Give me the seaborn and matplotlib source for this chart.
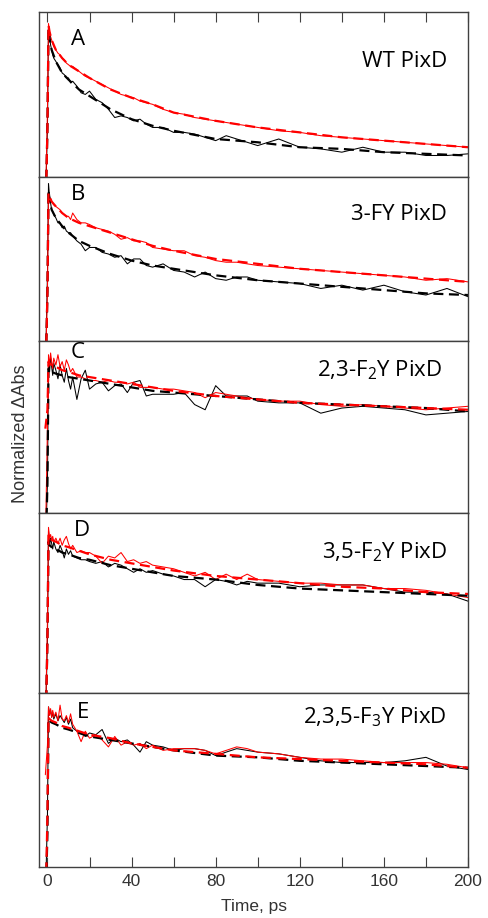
import numpy as np
import pandas as pd
import matplotlib
matplotlib.use("Agg")
import matplotlib.pyplot as plt
from matplotlib.ticker import MultipleLocator
import seaborn as sns

# time grids (ps)
DATA_T = [-1, 0, 0.5, 1, 1.5, 2, 2.5, 3, 4, 5, 6, 7, 8, 9, 10, 11, 12, 14, 16, 18, 20,
          23, 26, 29, 32, 35, 38, 41, 44, 47, 50, 55, 60, 65, 70, 75, 80, 85, 90, 95,
          100, 110, 120, 130, 140, 150, 160, 170, 180, 190, 200]
FIT_T = [-1, 0, 0.5, 1, 2, 4, 7, 10, 15, 20, 30, 40, 50, 60, 80, 100, 120, 140, 160, 180, 200]

# panel A - WT PixD
A_BLACK = [-0.2, 0.3, 0.91, 0.85, 0.80, 0.77, 0.74, 0.72, 0.70, 0.68, 0.66, 0.63, 0.62, 0.60, 0.60,
           0.57, 0.58, 0.55, 0.51, 0.50, 0.52, 0.47, 0.45, 0.41, 0.36, 0.37, 0.36, 0.34, 0.35, 0.32,
           0.30, 0.30, 0.27, 0.27, 0.26, 0.24, 0.22, 0.25, 0.23, 0.21, 0.19, 0.23, 0.18, 0.17, 0.15,
           0.18, 0.15, 0.15, 0.13, 0.13, 0.14]
A_RED = [-0.2, 0.4, 0.93, 0.88, 0.85, 0.83, 0.81, 0.79, 0.77, 0.75, 0.74, 0.72, 0.71, 0.69, 0.68,
         0.67, 0.67, 0.65, 0.63, 0.61, 0.60, 0.58, 0.56, 0.54, 0.52, 0.50, 0.49, 0.48, 0.46, 0.45,
         0.44, 0.41, 0.39, 0.38, 0.36, 0.35, 0.34, 0.33, 0.32, 0.31, 0.30, 0.28, 0.27, 0.25, 0.24,
         0.23, 0.22, 0.21, 0.20, 0.19, 0.18]
A_BLACK_FIT = [-0.3, 0.3, 0.90, 0.84, 0.77, 0.70, 0.63, 0.59, 0.53, 0.49, 0.41, 0.35, 0.31, 0.28,
               0.23, 0.21, 0.18, 0.17, 0.15, 0.14, 0.13]
A_RED_FIT = [-0.3, 0.3, 0.92, 0.88, 0.83, 0.77, 0.72, 0.68, 0.64, 0.60, 0.53, 0.48, 0.44, 0.39,
             0.34, 0.30, 0.27, 0.24, 0.22, 0.20, 0.18]

# panel B - 3-FY PixD
B_BLACK = [-0.2, 0.4, 0.96, 0.88, 0.84, 0.80, 0.79, 0.77, 0.75, 0.72, 0.72, 0.69, 0.70, 0.67, 0.66,
           0.66, 0.64, 0.61, 0.59, 0.55, 0.57, 0.57, 0.54, 0.53, 0.51, 0.52, 0.47, 0.50, 0.50, 0.46,
           0.45, 0.47, 0.43, 0.42, 0.39, 0.42, 0.38, 0.37, 0.39, 0.39, 0.37, 0.36, 0.35, 0.32, 0.34,
           0.31, 0.34, 0.30, 0.28, 0.32, 0.27]
B_RED = [-0.2, 0.3, 0.90, 0.88, 0.86, 0.85, 0.84, 0.83, 0.82, 0.81, 0.80, 0.78, 0.77, 0.76, 0.76,
         0.74, 0.78, 0.74, 0.72, 0.72, 0.71, 0.69, 0.68, 0.67, 0.65, 0.62, 0.63, 0.61, 0.61, 0.60,
         0.57, 0.56, 0.55, 0.55, 0.52, 0.51, 0.49, 0.48, 0.48, 0.47, 0.46, 0.45, 0.44, 0.43, 0.42,
         0.41, 0.40, 0.39, 0.37, 0.38, 0.36]
B_BLACK_FIT = [-0.3, 0.3, 0.92, 0.86, 0.80, 0.75, 0.70, 0.66, 0.61, 0.58, 0.53, 0.49, 0.46, 0.44,
               0.40, 0.37, 0.35, 0.33, 0.31, 0.29, 0.28]
B_RED_FIT = [-0.3, 0.3, 0.90, 0.88, 0.85, 0.82, 0.78, 0.75, 0.72, 0.70, 0.66, 0.62, 0.58, 0.55,
             0.50, 0.47, 0.44, 0.42, 0.40, 0.38, 0.36]

# panel C - 2,3-F2Y PixD
C_BLACK = [-0.2, 0.17, 0.88, 0.82, 0.90, 0.85, 0.80, 0.87, 0.83, 0.78, 0.86, 0.80, 0.76, 0.84, 0.77,
           0.72, 0.79, 0.66, 0.78, 0.83, 0.72, 0.75, 0.76, 0.71, 0.74, 0.75, 0.70, 0.76, 0.77, 0.68,
           0.69, 0.69, 0.69, 0.70, 0.63, 0.60, 0.74, 0.68, 0.68, 0.68, 0.65, 0.64, 0.64, 0.58, 0.61,
           0.62, 0.61, 0.60, 0.57, 0.58, 0.59]
C_RED = [-0.2, 0.5, 0.92, 0.86, 0.93, 0.88, 0.84, 0.90, 0.86, 0.92, 0.85, 0.88, 0.83, 0.89, 0.86,
         0.82, 0.84, 0.79, 0.79, 0.78, 0.77, 0.77, 0.76, 0.77, 0.76, 0.76, 0.75, 0.76, 0.73, 0.73,
         0.73, 0.72, 0.72, 0.71, 0.70, 0.67, 0.70, 0.69, 0.68, 0.67, 0.66, 0.65, 0.65, 0.63, 0.62,
         0.63, 0.62, 0.61, 0.60, 0.61, 0.62]
C_BLACK_FIT = [-0.3, 0.17, 0.84, 0.83, 0.82, 0.81, 0.80, 0.79, 0.78, 0.77, 0.75, 0.73, 0.71, 0.70,
               0.68, 0.66, 0.64, 0.63, 0.62, 0.61, 0.59]
C_RED_FIT = [0.49, 0.6, 0.88, 0.87, 0.86, 0.85, 0.83, 0.82, 0.80, 0.79, 0.77, 0.75, 0.73, 0.71,
             0.68, 0.66, 0.64, 0.63, 0.62, 0.61, 0.60]

# panel D - 3,5-F2Y PixD
D_BLACK = [-0.2, 0.3, 0.90, 0.82, 0.86, 0.83, 0.80, 0.84, 0.80, 0.78, 0.82, 0.79, 0.75, 0.80, 0.77,
           0.79, 0.76, 0.75, 0.74, 0.74, 0.73, 0.72, 0.73, 0.70, 0.72, 0.71, 0.69, 0.67, 0.69, 0.67,
           0.68, 0.66, 0.65, 0.63, 0.63, 0.59, 0.63, 0.62, 0.60, 0.62, 0.61, 0.61, 0.59, 0.60, 0.60,
           0.60, 0.58, 0.56, 0.56, 0.55, 0.51]
D_RED = [-0.2, 0.4, 0.92, 0.86, 0.88, 0.85, 0.87, 0.84, 0.86, 0.83, 0.86, 0.82, 0.85, 0.87, 0.83,
         0.80, 0.82, 0.78, 0.79, 0.78, 0.78, 0.76, 0.72, 0.76, 0.75, 0.78, 0.73, 0.74, 0.72, 0.73,
         0.71, 0.70, 0.69, 0.67, 0.65, 0.67, 0.63, 0.66, 0.63, 0.66, 0.63, 0.62, 0.61, 0.61, 0.60,
         0.60, 0.58, 0.58, 0.57, 0.55, 0.53]
D_BLACK_FIT = [-0.3, 0.3, 0.84, 0.82, 0.81, 0.80, 0.78, 0.77, 0.75, 0.74, 0.71, 0.69, 0.67, 0.65,
               0.63, 0.60, 0.58, 0.57, 0.56, 0.55, 0.54]
D_RED_FIT = [-0.3, 0.3, 0.88, 0.86, 0.85, 0.84, 0.82, 0.81, 0.79, 0.77, 0.74, 0.72, 0.70, 0.68,
             0.65, 0.63, 0.61, 0.59, 0.58, 0.56, 0.55]

# panel E - 2,3,5-F3Y PixD
E_BLACK = [-0.2, 0.3, 0.92, 0.88, 0.90, 0.86, 0.89, 0.85, 0.88, 0.84, 0.87, 0.85, 0.83, 0.86, 0.82,
           0.85, 0.80, 0.78, 0.77, 0.75, 0.77, 0.76, 0.79, 0.71, 0.74, 0.72, 0.73, 0.70, 0.66, 0.72,
           0.70, 0.69, 0.67, 0.68, 0.68, 0.67, 0.64, 0.66, 0.68, 0.67, 0.66, 0.65, 0.63, 0.61, 0.60,
           0.60, 0.60, 0.61, 0.63, 0.58, 0.56]
E_RED = [0.53, 0.7, 0.92, 0.87, 0.91, 0.86, 0.90, 0.86, 0.89, 0.84, 0.93, 0.85, 0.84, 0.87, 0.83,
         0.88, 0.82, 0.78, 0.72, 0.78, 0.74, 0.76, 0.73, 0.69, 0.75, 0.70, 0.72, 0.70, 0.71, 0.68,
         0.70, 0.67, 0.68, 0.68, 0.68, 0.67, 0.65, 0.67, 0.69, 0.68, 0.66, 0.65, 0.63, 0.62, 0.62,
         0.61, 0.60, 0.60, 0.60, 0.59, 0.57]
E_BLACK_FIT = [-0.3, 0.2, 0.85, 0.84, 0.83, 0.82, 0.80, 0.79, 0.77, 0.75, 0.73, 0.71, 0.69, 0.67,
               0.64, 0.63, 0.61, 0.60, 0.59, 0.58, 0.57]
E_RED_FIT = [-0.3, 0.3, 0.86, 0.85, 0.84, 0.83, 0.81, 0.80, 0.78, 0.76, 0.74, 0.71, 0.69, 0.67,
             0.65, 0.63, 0.62, 0.61, 0.60, 0.59, 0.57]

LETTERS = ["A", "B", "C", "D", "E"]
NAMES = ["WT PixD", "3-FY PixD", "2,3-F$_2$Y PixD", "3,5-F$_2$Y PixD", "2,3,5-F$_3$Y PixD"]

sns.set_style("white")
plt.rcParams["font.family"] = ["Open Sans", "DejaVu Sans"]
plt.rcParams["mathtext.default"] = "regular"
AXIS_FONT = ["Liberation Sans", "DejaVu Sans"]

panels = [
    (A_BLACK, A_RED, A_BLACK_FIT, A_RED_FIT),
    (B_BLACK, B_RED, B_BLACK_FIT, B_RED_FIT),
    (C_BLACK, C_RED, C_BLACK_FIT, C_RED_FIT),
    (D_BLACK, D_RED, D_BLACK_FIT, D_RED_FIT),
    (E_BLACK, E_RED, E_BLACK_FIT, E_RED_FIT),
]
letter_pos = [(0.091, 0.83), (0.091, 0.89), (0.091, 0.93), (0.100, 0.905), (0.102, 0.885)]
name_pos = [0.70, 0.77, 0.83, 0.78, 0.86]
name_x = [0.951, 0.951, 0.940, 0.951, 0.951]

fig, axes = plt.subplots(5, 1, figsize=(4.88, 9.18), dpi=100, sharex=True,
                         gridspec_kw={"height_ratios": [165, 164, 172, 180, 174], "hspace": 0})
fig.subplots_adjust(left=0.080, right=0.959, top=0.987, bottom=0.0556)

for i, (ax, (blk, red, blk_fit, red_fit)) in enumerate(zip(axes, panels)):
    data = pd.DataFrame({"t": DATA_T, "black": blk, "red": red})
    fit = pd.DataFrame({"t": FIT_T, "black": blk_fit, "red": red_fit})
    sns.lineplot(data=data, x="t", y="black", ax=ax, color="black", lw=0.75,
                 estimator=None, sort=False)
    sns.lineplot(data=data, x="t", y="red", ax=ax, color="red", lw=0.75,
                 estimator=None, sort=False)
    sns.lineplot(data=fit, x="t", y="black", ax=ax, color="black", lw=1.6,
                 linestyle=(0, (4.5, 2.5)), estimator=None, sort=False)
    sns.lineplot(data=fit, x="t", y="red", ax=ax, color="red", lw=1.6,
                 linestyle=(0, (4.5, 2.5)), estimator=None, sort=False)

    ax.set_ylim(0, 1)
    ax.set_xlim(-4, 200)
    ax.set_ylabel("")
    ax.set_xlabel("")
    ax.set_yticks([])
    for sp in ax.spines.values():
        sp.set_color("#404040")
        sp.set_linewidth(1.0)

    ax.text(letter_pos[i][0], letter_pos[i][1], LETTERS[i], transform=ax.transAxes,
            ha="center", va="center", fontsize=16, color="black")
    ax.text(name_x[i], name_pos[i], NAMES[i], transform=ax.transAxes,
            ha="right", va="center", fontsize=16, color="black")

    ax.tick_params(axis="x", which="both", bottom=False, top=False,
                   labelbottom=False, labeltop=False)

axes[0].xaxis.set_major_locator(MultipleLocator(40))
axes[0].xaxis.set_minor_locator(MultipleLocator(20))
axes[0].tick_params(axis="x", which="both", top=True, direction="in", length=7.5,
                    width=0.8, color="#404040")
axes[-1].tick_params(axis="x", which="both", bottom=True, direction="in", length=7.5,
                     width=0.8, color="#404040", labelbottom=True, labelsize=12.5,
                     labelcolor="#333333", pad=5)
for lbl in axes[-1].get_xticklabels():
    lbl.set_family(AXIS_FONT)
axes[-1].set_xlabel("Time, ps", fontsize=12.5, color="#333333", labelpad=7,
                    family=AXIS_FONT)

fig.text(0.041, 0.527, "Normalized \u0394Abs", rotation=90, ha="center", va="center",
         fontsize=13, color="#333333", family=AXIS_FONT)

fig.savefig("out.png", dpi=100)
